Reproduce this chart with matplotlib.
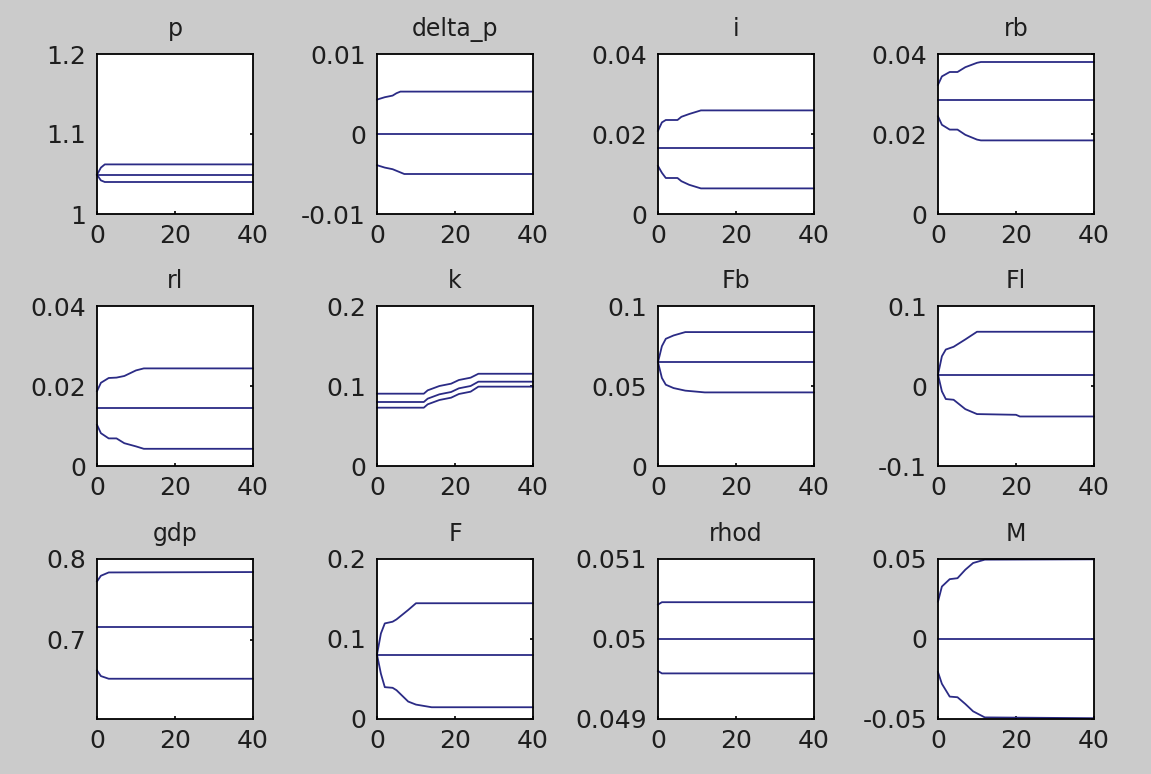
import matplotlib
matplotlib.use("Agg")
import matplotlib.pyplot as plt

# impulse-response style bands: upper, median, lower for each variable
p_t = [0, 1, 2, 40]
p_hi = [1.049, 1.058, 1.062, 1.062]
p_mid = [1.049, 1.049, 1.049, 1.049]
p_lo = [1.049, 1.042, 1.040, 1.040]

dp_t = [0, 2, 4, 5, 6, 7, 40]
dp_hi = [0.0043, 0.0046, 0.0048, 0.0051, 0.0053, 0.0053, 0.0053]
dp_mid = [0, 0, 0, 0, 0, 0, 0]
dp_lo = [-0.0039, -0.0042, -0.0044, -0.0046, -0.0048, -0.0050, -0.0050]

i_t = [0, 1, 2, 5, 6, 8, 11, 40]
i_hi = [0.0208, 0.0229, 0.0235, 0.0235, 0.0243, 0.0250, 0.0259, 0.0259]
i_mid = [0.0166] * 8
i_lo = [0.0120, 0.0103, 0.0090, 0.0090, 0.0082, 0.0073, 0.0064, 0.0064]

rb_t = [0, 1, 3, 5, 7, 10, 11, 40]
rb_hi = [0.0323, 0.0344, 0.0355, 0.0355, 0.0367, 0.0378, 0.0380, 0.0380]
rb_mid = [0.0286] * 8
rb_lo = [0.0244, 0.0223, 0.0211, 0.0211, 0.0198, 0.0186, 0.0184, 0.0184]

rl_t = [0, 1, 3, 5, 7, 10, 12, 40]
rl_hi = [0.0187, 0.0208, 0.0220, 0.0221, 0.0225, 0.0239, 0.0244, 0.0244]
rl_mid = [0.0144] * 8
rl_lo = [0.0103, 0.0082, 0.0069, 0.0069, 0.0057, 0.0049, 0.0043, 0.0043]

k_t = [0, 12, 13, 16, 19, 21, 24, 26, 40]
k_hi = [0.0904, 0.0904, 0.0946, 0.1000, 0.1029, 0.1075, 0.1104, 0.1153, 0.1153]
k_mid = [0.0800, 0.0800, 0.0842, 0.0896, 0.0925, 0.0971, 0.1000, 0.1054, 0.1054]
k_lo = [0.0729, 0.0729, 0.0771, 0.0825, 0.0854, 0.0900, 0.0929, 0.0992, 0.0992]

fb_t = [0, 1, 2, 4, 7, 12, 40]
fb_hi = [0.0649, 0.0749, 0.0795, 0.0816, 0.0837, 0.0837, 0.0837]
fb_mid = [0.0649] * 7
fb_lo = [0.0649, 0.0550, 0.0508, 0.0487, 0.0471, 0.0460, 0.0460]

fl_t = [0, 1, 2, 4, 7, 10, 20, 21, 40]
fl_hi = [0.0142, 0.0372, 0.0456, 0.0490, 0.0582, 0.0678, 0.0678, 0.0678, 0.0678]
fl_mid = [0.0142] * 9
fl_lo = [0.0142, -0.0067, -0.0163, -0.0172, -0.0289, -0.0351, -0.0360, -0.0381, -0.0381]

gdp_t = [0, 1, 3, 40]
gdp_hi = [0.7721, 0.7792, 0.7833, 0.7838]
gdp_mid = [0.7158] * 4
gdp_lo = [0.6617, 0.6546, 0.6513, 0.6513]

f_t = [0, 1, 2, 4, 5, 8, 10, 14, 40]
f_hi = [0.0805, 0.1069, 0.1195, 0.1216, 0.1245, 0.1363, 0.1447, 0.1447, 0.1447]
f_mid = [0.0805] * 9
f_lo = [0.0805, 0.0566, 0.0398, 0.0390, 0.0360, 0.0218, 0.0180, 0.0147, 0.0147]

rh_t = [0, 1, 40]
rh_hi = [0.05043, 0.05046, 0.05046]
rh_mid = [0.05, 0.05, 0.05]
rh_lo = [0.04960, 0.04957, 0.04957]

m_t = [0, 1, 3, 5, 7, 9, 12, 40]
m_hi = [0.0234, 0.0328, 0.0374, 0.0380, 0.0433, 0.0475, 0.0496, 0.0498]
m_mid = [0] * 8
m_lo = [-0.0207, -0.0280, -0.0360, -0.0364, -0.0406, -0.0452, -0.0490, -0.0495]

titles = ["p", "delta_p", "i", "rb", "rl", "k", "Fb", "Fl", "gdp", "F", "rhod", "M"]
series = [
    (p_t, p_hi, p_mid, p_lo),
    (dp_t, dp_hi, dp_mid, dp_lo),
    (i_t, i_hi, i_mid, i_lo),
    (rb_t, rb_hi, rb_mid, rb_lo),
    (rl_t, rl_hi, rl_mid, rl_lo),
    (k_t, k_hi, k_mid, k_lo),
    (fb_t, fb_hi, fb_mid, fb_lo),
    (fl_t, fl_hi, fl_mid, fl_lo),
    (gdp_t, gdp_hi, gdp_mid, gdp_lo),
    (f_t, f_hi, f_mid, f_lo),
    (rh_t, rh_hi, rh_mid, rh_lo),
    (m_t, m_hi, m_mid, m_lo),
]
ylims = [
    (1, 1.2), (-0.01, 0.01), (0, 0.04), (0, 0.04),
    (0, 0.04), (0, 0.2), (0, 0.1), (-0.1, 0.1),
    (0.6013, 0.8), (0, 0.2), (0.049, 0.051), (-0.05, 0.05),
]
yticks = [
    [1, 1.1, 1.2], [-0.01, 0, 0.01], [0, 0.02, 0.04], [0, 0.02, 0.04],
    [0, 0.02, 0.04], [0, 0.1, 0.2], [0, 0.05, 0.1], [-0.1, 0, 0.1],
    [0.7, 0.8], [0, 0.1, 0.2], [0.049, 0.05, 0.051], [-0.05, 0, 0.05],
]
ylabels = [
    ["1", "1.1", "1.2"], ["-0.01", "0", "0.01"], ["0", "0.02", "0.04"], ["0", "0.02", "0.04"],
    ["0", "0.02", "0.04"], ["0", "0.1", "0.2"], ["0", "0.05", "0.1"], ["-0.1", "0", "0.1"],
    ["0.7", "0.8"], ["0", "0.1", "0.2"], ["0.049", "0.05", "0.051"], ["-0.05", "0", "0.05"],
]

W, H = 1151, 774
fig = plt.figure(figsize=(W / 100, H / 100), dpi=100, facecolor="#cbcbcb")
plt.rcParams["font.family"] = "DejaVu Sans"

lefts = [97, 377, 658, 938]
tops = [54, 306, 559]
aw, ah = 156, 160
line_col = "#2b2b85"

for n, (t, hi, mid, lo) in enumerate(series):
    r, c = divmod(n, 4)
    ax = fig.add_axes([lefts[c] / W, (H - tops[r] - ah) / H, aw / W, ah / H])
    ax.set_facecolor("white")
    for vals in (hi, mid, lo):
        ax.plot(t, vals, color=line_col, lw=1.3, clip_on=False)
    ax.set_xlim(0, 40)
    ax.set_ylim(*ylims[n])
    ax.set_xticks([0, 20, 40])
    ax.set_xticklabels(["0", "20", "40"])
    ax.set_yticks(yticks[n])
    ax.set_yticklabels(ylabels[n])
    # MATLAB-style: short inward ticks, visible only on bottom and right
    ax.tick_params(direction="in", length=2, width=1.2, bottom=True, right=True,
                   left=False, top=False, labelleft=True, labelright=False,
                   labelsize=18, colors="black", labelcolor="#1e1e1e")
    ax.tick_params(axis="x", pad=7)
    ax.tick_params(axis="y", pad=8)
    for s in ax.spines.values():
        s.set_linewidth(1.3)
        s.set_color("black")
    ax.set_title(titles[n], fontsize=17, pad=13, color="#1e1e1e")

fig.savefig("out.png", dpi=100, facecolor=fig.get_facecolor())
